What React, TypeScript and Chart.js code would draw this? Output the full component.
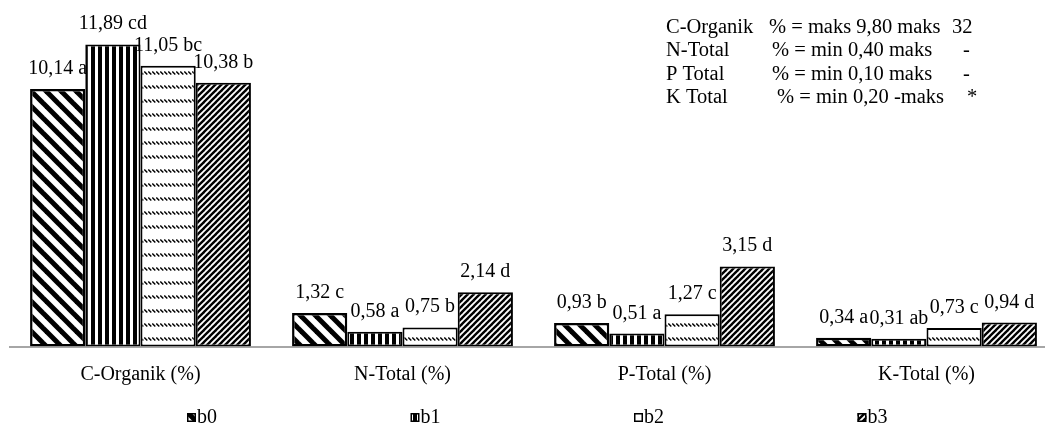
import React, { useEffect, useRef } from 'react';
import { Chart, registerables } from 'chart.js';

Chart.register(...registerables);

// ---------- data ----------
const categories = ['C-Organik (%)', 'N-Total (%)', 'P-Total (%)', 'K-Total (%)'];
const seriesNames = ['b0', 'b1', 'b2', 'b3'];
const b0Values = [10.14, 1.32, 0.93, 0.34];
const b1Values = [11.89, 0.58, 0.51, 0.31];
const b2Values = [11.05, 0.75, 1.27, 0.73];
const b3Values = [10.38, 2.14, 3.15, 0.94];
const b0Letters = ['a', 'c', 'b', 'a'];
const b1Letters = ['cd', 'a', 'a', 'ab'];
const b2Letters = ['bc', 'b', 'c', 'c'];
const b3Letters = ['b', 'd', 'd', 'd'];

const noteNames = ['C-Organik', 'N-Total', 'P Total', 'K Total'];
const noteRules = ['% = maks 9,80 maks', '% = min 0,40 maks', '% = min 0,10 maks', '% = min 0,20 -maks'];
const noteLimits = ['32', '-', '-', '*'];

// ---------- layout / style ----------
const FONT = '"Liberation Serif", "Times New Roman", serif';
const CANVAS_W = 1060;
const CANVAS_H = 425;
const noteX = 666;
const noteRuleX = [769, 772, 772, 777];
const noteLimitX = [952, 963, 963, 967];
const noteY0 = 33;
const noteDY = 23.3;
const legendX0 = 187;
const legendStep = 223.5;
const legendBaseline = 423;

function makePattern(kind: number): CanvasPattern | string {
  const c = document.createElement('canvas');
  let w = 8, h = 8;
  if (kind === 0) { w = 15; h = 15; }
  if (kind === 1) { w = 7; h = 7; }
  if (kind === 2) { w = 4; h = 14; }
  if (kind === 3) { w = 6; h = 6; }
  c.width = w; c.height = h;
  const g = c.getContext('2d');
  if (!g) return '#fff';
  g.fillStyle = '#fff';
  g.fillRect(0, 0, w, h);
  g.strokeStyle = '#000';
  g.fillStyle = '#000';
  if (kind === 0) {
    g.lineWidth = 5;
    for (const o of [-w, 0, w]) {
      g.beginPath(); g.moveTo(o - w, -h); g.lineTo(o + 2 * w, 2 * h); g.stroke();
    }
  } else if (kind === 1) {
    g.fillRect(0, 0, 4, h);
  } else if (kind === 2) {
    g.lineWidth = 1.4;
    g.beginPath(); g.moveTo(0.3, 1.5); g.lineTo(3.3, 4.5); g.stroke();
  } else {
    g.lineWidth = 2.4;
    for (const o of [-w, 0, w]) {
      g.beginPath(); g.moveTo(o - w, 2 * h); g.lineTo(o + 2 * w, -h); g.stroke();
    }
  }
  const p = g.createPattern(c, 'repeat');
  return p || '#000';
}

const fmt = (v: number, l: string) => v.toFixed(2).replace('.', ',') + ' ' + l;

export default function App() {
  const ref = useRef<HTMLCanvasElement | null>(null);

  useEffect(() => {
    if (!ref.current) return;
    const values = [b0Values, b1Values, b2Values, b3Values];
    const letters = [b0Letters, b1Letters, b2Letters, b3Letters];
    const patterns = [0, 1, 2, 3].map((k) => makePattern(k));

    const labelPlugin = {
      id: 'valueLabels',
      afterDatasetsDraw(chart: any) {
        const ctx = chart.ctx;
        ctx.save();
        ctx.font = `20px ${FONT}`;
        ctx.fillStyle = '#000';
        ctx.textAlign = 'center';
        ctx.textBaseline = 'alphabetic';
        chart.data.datasets.forEach((ds: any, di: number) => {
          const meta = chart.getDatasetMeta(di);
          meta.data.forEach((el: any, i: number) => {
            ctx.fillText(fmt(values[di][i], letters[di][i]), el.x, el.y - 15);
          });
        });
        ctx.restore();
      },
      afterDraw(chart: any) {
        const ctx = chart.ctx;
        ctx.save();
        ctx.fillStyle = '#000';
        ctx.textBaseline = 'alphabetic';
        ctx.textAlign = 'left';
        ctx.font = `20.5px ${FONT}`;
        noteNames.forEach((n, i) => {
          const y = noteY0 + i * noteDY;
          ctx.fillText(n, noteX, y);
          ctx.fillText(noteRules[i], noteRuleX[i], y);
          ctx.fillText(noteLimits[i], noteLimitX[i], y);
        });
        // legend
        ctx.font = `20px ${FONT}`;
        seriesNames.forEach((n, i) => {
          const x = legendX0 + i * legendStep;
          const bx = x, by = legendBaseline - 10, bs = 9;
          ctx.fillStyle = patterns[i] as any;
          ctx.fillRect(bx, by, bs, bs);
          ctx.strokeStyle = '#000';
          ctx.lineWidth = 1.5;
          ctx.strokeRect(bx + 0.75, by + 0.75, bs - 1.5, bs - 1.5);
          ctx.fillStyle = '#000';
          ctx.fillText(n, bx + bs + 1, legendBaseline);
        });
        ctx.restore();
      },
    };

    const chart = new Chart(ref.current, {
      type: 'bar',
      data: {
        labels: categories,
        datasets: seriesNames.map((n, i) => ({
          label: n,
          data: values[i],
          backgroundColor: patterns[i] as any,
          borderColor: '#000',
          borderWidth: i === 0 ? 2.5 : 2,
          borderSkipped: false,
          categoryPercentage: 0.843,
          barPercentage: 1,
        })),
      },
      options: {
        animation: false,
        responsive: false,
        devicePixelRatio: 1,
        layout: { padding: { left: 9.5, right: 2.5, top: 16.3, bottom: 0 } },
        plugins: { legend: { display: false }, tooltip: { enabled: false } },
        scales: {
          x: {
            grid: { display: false, drawTicks: false },
            border: { display: true, color: '#a6a6a6', width: 2 },
            ticks: { color: '#000', font: { family: FONT, size: 20 }, padding: 16 },
            afterFit: (scale: any) => { scale.height = 78.5; },
          },
          y: { display: false, min: 0, max: 13 },
        },
      },
      plugins: [labelPlugin],
    });
    return () => chart.destroy();
  }, []);

  return (
    <div style={{ position: 'absolute', left: 0, top: 0, width: 1045, height: 425, overflow: 'hidden', background: '#fff' }}>
      <canvas ref={ref} width={CANVAS_W} height={CANVAS_H} style={{ width: CANVAS_W, height: CANVAS_H, display: 'block' }} />
    </div>
  );
}
